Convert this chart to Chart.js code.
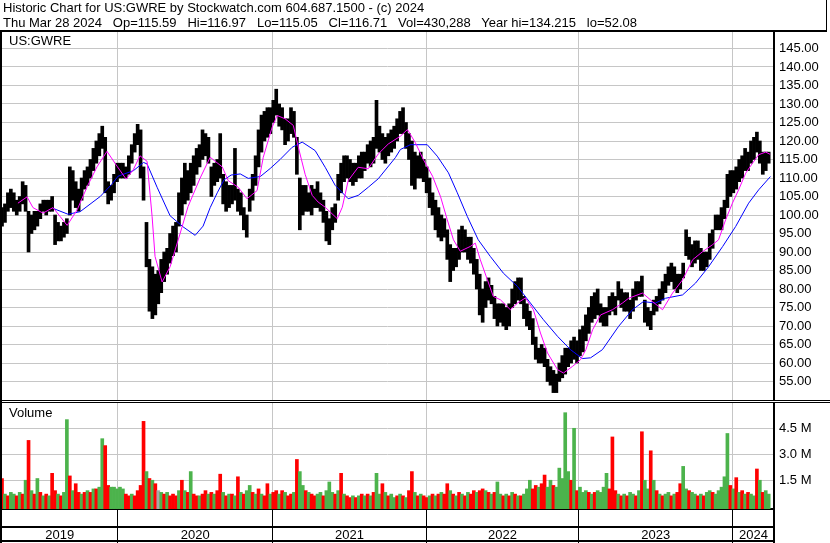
<!DOCTYPE html>
<html lang="en">

<head>
  <meta charset="UTF-8">
  <title>Historic Chart for US:GWRE</title>
  <script src="https://cdn.jsdelivr.net/npm/chart.js"></script>
  <style>
    body {
      margin: 0;
      background: #ffffff;
      font-family: Arial, "Liberation Sans", sans-serif;
      color: #000;
    }

    #page {
      position: relative;
      width: 830px;
      height: 543px;
      overflow: hidden;
      background: #ffffff;
    }

    #hdr {
      position: absolute;
      left: 0;
      top: 0;
      width: 823px;
      height: 30px;
      padding-left: 3px;
      border-right: 1px solid #000;
      border-bottom: 2px solid #000;
      font-size: 13px;
      line-height: 15px;
      white-space: pre;
      z-index: 5;
    }

    .rule {
      position: absolute;
      background: #000;
      z-index: 5;
    }

    .tag {
      position: absolute;
      left: 9px;
      font-size: 13px;
      line-height: 13px;
      z-index: 4;
    }

    canvas {
      position: absolute;
      left: 2px;
    }
  </style>
</head>

<body>
  <div id="page">
    <div id="hdr"></div>
    <canvas id="priceChart" width="828" height="370" style="top:30px"></canvas>
    <canvas id="volChart" width="828" height="140" style="top:403px"></canvas>
    <div class="rule" style="left:0;top:30px;width:2px;height:513px"></div>
    <div class="rule" style="left:0;top:400px;width:830px;height:1px"></div>
    <div class="rule" style="left:0;top:402px;width:830px;height:1px"></div>
    <div class="tag" style="top:34px">US:GWRE</div>
    <div class="tag" style="top:406px">Volume</div>
  </div>

  <script>
    const headerLines = [
      "Historic Chart for US:GWRE by Stockwatch.com 604.687.1500 - (c) 2024",
      "Thu Mar 28 2024   Op=115.59   Hi=116.97   Lo=115.05   Cl=116.71   Vol=430,288   Year hi=134.215   lo=52.08"
    ];

    // x axis is in weeks counted from the first bar (early Apr 2019)
    const weekRange = [0, 261.8];
    const yearStarts = [39.13, 91.87, 143.8, 195.6, 247.85];
    const yearLabels = ["2019", "2020", "2021", "2022", "2023", "2024"];

    // weekly price range
    const priceLow = [
      97, 98, 101, 102, 101, 100, 101, 103, 101, 90,
      95, 96, 97, 99, 101, 100, 101, 101, 92, 93,
      93, 94, 95, 100, 104, 102, 101, 104, 107, 108,
      110, 112, 114, 116, 118, 106, 103, 104, 106, 109,
      110, 110, 110, 111, 114, 117, 119, 110, 104, 86,
      74, 72, 73, 76, 79, 82, 84, 87, 89, 90,
      97, 100, 103, 104, 106, 108, 111, 113, 115, 116,
      114, 105, 108, 109, 110, 103, 101, 102, 103, 104,
      101, 100, 96, 94, 101, 104, 108, 113, 117, 120,
      121, 122, 125, 127, 124, 123, 119, 120, 122, 121,
      111, 96, 100, 101, 101, 100, 102, 102, 101, 98,
      93, 92, 96, 98, 104, 106, 109, 110, 109, 108,
      109, 110, 110, 112, 114, 113, 114, 118, 117, 115,
      114, 116, 117, 118, 120, 122, 122, 118, 115, 108,
      107, 110, 110, 109, 106, 102, 100, 96, 94, 93,
      94, 88, 82, 85, 86, 88, 90, 90, 88, 87,
      84, 80, 73, 71, 75, 77, 76, 72, 70, 71,
      70, 69, 70, 75, 76, 77, 76, 72, 70, 69,
      65, 61, 60, 60, 59, 55, 54, 52, 52, 55,
      56, 57, 59, 60, 61, 60, 62, 63, 66, 68,
      71, 72, 73, 71, 70, 70, 73, 74, 73, 77,
      75, 74, 74, 72, 74, 77, 78, 78, 71, 70,
      69, 73, 74, 76, 77, 79, 81, 82, 80, 79,
      80, 83, 89, 88, 86, 87, 88, 85, 85, 86,
      88, 91, 96, 96, 96, 99, 102, 105, 106, 107,
      109, 110, 112, 112, 114, 115, 117, 114, 111, 112, 114
    ];
    const priceHigh = [
      102, 103, 106, 107, 106, 104, 105, 109, 108, 101,
      100, 101, 101, 103, 104, 104, 104, 105, 100, 98,
      97, 98, 99, 113, 112, 109, 107, 110, 112, 113,
      115, 118, 120, 122, 124, 121, 109, 108, 111, 114,
      114, 114, 113, 116, 119, 122, 124.5, 123, 113, 98,
      88, 86, 84, 85, 88, 90, 91, 95, 97, 98,
      106, 110, 114, 112, 114, 116, 118, 119, 123, 122,
      121, 113, 114, 115, 122, 111, 109, 108, 108, 118,
      107, 106, 102, 100, 107, 111, 116, 123, 127, 128,
      129, 129, 131, 134, 130, 129, 126, 126, 129, 128,
      121, 110, 108, 108, 106, 108, 107, 109, 106, 104,
      101, 99, 102, 103, 111, 114, 116, 116, 115, 114,
      114, 116, 117, 117, 119, 120, 121, 131, 124, 122,
      121, 122, 123, 124, 126, 128, 129, 125, 122, 120,
      117, 116, 117, 115, 113, 110, 106, 104, 102, 100,
      99, 96, 92, 91, 91, 96, 97, 96, 94, 94,
      91, 88, 84, 80, 82, 83, 81, 78, 76, 76,
      76, 75, 76, 80, 82, 83, 83, 78, 76, 74,
      72, 67, 64, 65, 64, 61, 59, 58, 57, 60,
      62, 64, 64, 66, 67, 66, 69, 70, 73, 75,
      78, 79, 80, 76, 75, 75, 78, 79, 78, 82,
      80, 79, 79, 77, 80, 82, 82, 83.5, 77, 75,
      74, 77, 78, 80, 82, 84, 86, 87, 86, 84,
      84, 87, 96, 94, 92, 93, 93, 91, 90, 90,
      95, 96, 100, 100, 102, 104, 111, 112, 112, 113,
      115, 116, 118, 117, 120, 121, 122.4, 120, 117, 117, 117
    ];

    // moving averages as [week, value]
    const maShort = [
      [5.4, 103.2], [8.5, 104.9], [10.5, 102], [13.9, 100.5], [17.3, 102], [19.7, 99.6], [22.1, 97.2],
      [25.5, 101.4], [28.9, 107.7], [32.2, 113], [35.6, 117.2], [39, 113.2], [42.1, 109.7], [44.5, 112.2],
      [46.8, 116], [49.2, 114.5], [50.9, 99.6], [51.9, 88.8], [54.3, 81.9], [57, 86], [60.4, 95],
      [63.1, 102.3], [67.2, 110], [70.6, 115.6], [74.7, 113], [76.7, 109.3], [80.1, 107.5], [83.1, 104.4],
      [86.5, 106.6], [88.6, 115.6], [91.6, 123.7], [93.3, 126.9], [96, 126], [98.8, 124.2], [100.5, 118.3],
      [102.8, 111], [105.2, 105.3], [107.2, 103.5], [109.6, 102.1], [113.7, 99], [115.4, 102.1], [117.4, 109.3],
      [120.8, 112.9], [124.2, 112.5], [127.6, 116.5], [131, 119.2], [135.1, 121.3], [137.5, 123.1],
      [140.2, 119.5], [142.9, 115], [146, 110.5], [148.7, 105], [151, 98.7], [153.1, 93.3], [155.4, 90.2],
      [158.8, 91.5], [160.5, 92.4], [162.2, 87.9], [164.6, 82.5], [166.6, 78], [169, 77.1], [172.4, 74.4],
      [174.8, 76.2], [177.5, 77.6], [180.2, 74.4], [182.6, 68.1], [185, 62.7], [188.4, 58.2], [190.4, 57.3],
      [193.5, 59.1], [196.2, 60.9], [198, 63.6], [200.3, 69], [203, 73], [207, 74.4], [210.4, 76.2],
      [212.5, 77.5], [217.2, 78.9], [220.6, 76.6], [224, 74.4], [227.4, 78.9], [230.8, 82.5], [234.2, 87.9],
      [237.6, 90.1], [241, 92], [243, 93.3], [245.4, 98.7], [247.7, 103.2], [249.8, 106.8], [252.2, 111.3],
      [254.5, 114], [256.6, 116.3], [259, 117], [260.5, 116.4]
    ];
    const maLong = [
      [17.3, 101.8], [22.4, 100.2], [26.5, 100.9], [33.3, 105], [37.1, 108.2], [39.4, 110.5], [44.6, 112],
      [48, 114.2], [49.2, 113.8], [52.6, 107.5], [57, 99.8], [61.4, 96.8], [65.5, 94.5], [68.2, 97],
      [70.6, 102], [73, 106], [75.3, 109.5], [77.7, 110.8], [80.8, 111.1], [83.5, 109.9], [87.6, 110.4],
      [91, 112.6], [94.3, 115], [98.4, 118.3], [101.8, 119.7], [106.2, 117.4], [109.6, 112.9], [113, 108],
      [117.4, 104.4], [120.8, 105.3], [124.2, 107.5], [127.6, 109.8], [133.4, 115.5], [135.1, 117.7],
      [138.5, 119], [144.2, 119], [147.6, 115.9], [151.4, 111.4], [154.4, 106], [157.8, 99.6], [161.5, 93.3],
      [165.6, 88.8], [170, 84.3], [174.8, 80.7], [179.2, 76.2], [183.6, 71.7], [188.4, 67.2], [192.8, 63.6],
      [196.8, 61.2], [199.6, 61.4], [203.6, 63.6], [209.1, 69.9], [213.8, 74.4], [217.5, 76.6], [221.6, 76.2],
      [225, 77.5], [230.8, 78.4], [235.2, 81.6], [239.6, 86], [244.4, 91.5], [248.8, 96.9], [253.2, 103.2],
      [256.6, 106.8], [260.6, 110.4]
    ];

    // weekly volume in millions, and whether the bar is up (g), down (r) or flat (a)
    const volume = [
      1.6, 0.7, 0.6, 0.8, 0.7, 0.6, 0.8, 0.7, 1.5, 3.8,
      0.9, 0.7, 1.6, 0.8, 0.6, 0.7, 0.6, 1.9, 0.9, 0.7,
      0.6, 0.8, 5.0, 1.75, 0.9, 1.3, 0.8, 0.7, 0.8, 0.9,
      0.8, 1.0, 1.0, 1.1, 3.9, 3.5, 1.2, 1.1, 1.1, 1.0,
      1.1, 1.0, 0.7, 0.6, 0.7, 0.6, 0.9, 1.2, 4.9, 2.0,
      1.6, 1.5, 1.3, 0.9, 0.8, 0.7, 0.8, 0.6, 0.7, 0.6,
      0.9, 1.5, 0.9, 0.8, 2.0, 0.7, 0.6, 0.6, 0.7, 0.9,
      0.7, 0.8, 0.7, 0.9, 1.85, 0.8, 0.6, 0.7, 0.7, 0.6,
      1.7, 0.8, 0.7, 0.9, 1.2, 0.8, 0.7, 1.0, 0.7, 0.6,
      1.3, 0.7, 0.8, 0.9, 0.7, 0.9, 0.8, 0.6, 0.7, 0.8,
      2.7, 2.0, 1.2, 0.9, 0.8, 0.7, 0.6, 0.7, 0.8, 0.6,
      0.9, 1.4, 0.8, 0.7, 0.9, 1.9, 0.7, 0.6, 0.5, 0.6,
      0.5, 0.6, 0.7, 0.6, 0.7, 0.6, 0.8, 1.9, 0.7, 1.3,
      0.8, 0.6, 0.7, 0.5, 0.6, 0.7, 0.6, 0.5, 0.9, 2.0,
      0.8, 0.6, 0.7, 0.6, 0.5, 0.6, 0.7, 0.6, 0.7, 0.8,
      0.7, 1.3, 0.9, 0.7, 0.6, 0.8, 0.7, 0.6, 0.8, 0.7,
      0.9, 0.8, 0.9, 1.0, 0.9, 0.8, 0.7, 0.8, 1.4, 0.7,
      0.6, 0.7, 0.6, 0.8, 0.7, 0.6, 0.6, 0.7, 1.0, 1.5,
      1.0, 1.2, 1.1, 1.3, 1.8, 1.1, 1.5, 1.2, 1.1, 2.2,
      1.6, 5.4, 2.0, 1.5, 4.5, 0.9, 1.1, 0.8, 0.9, 0.8,
      0.7, 0.8, 0.9, 0.8, 1.1, 1.9, 1.0, 4.0, 0.9, 0.7,
      0.6, 0.7, 0.6, 0.8, 0.7, 0.6, 0.9, 4.3, 1.5, 1.0,
      3.2, 1.5, 0.9, 0.7, 0.6, 0.7, 0.8, 0.6, 0.7, 0.8,
      1.3, 2.3, 1.0, 0.9, 0.8, 0.7, 0.6, 0.7, 0.6, 0.8,
      0.9, 0.8, 0.7, 0.9, 1.1, 1.7, 4.2, 1.2, 1.0, 1.65,
      0.8, 0.9, 0.7, 0.8, 0.7, 0.6, 2.15, 1.5, 0.8, 0.9, 0.7
    ];
    const volDirection =
      "rgrggrgrgr" + "grgrgrgrrg" + "rggrgrrgrg" + "rgrggrrggg" + "ggrrgrrrrg" +
      "rgragrgrrr" + "grgrgrrgrr" + "grgrrgrgrg" + "rgrggrgrgr" + "rgrrgrgrrg" +
      "rggrgrrggr" + "gggrgrgrrg" + "rgrgrgrggr" + "grggrgrgrr" + "grgrrgrgrg" +
      "rrgrgrgrgr" + "rgrrgrgrgg" + "rgrgrgrggg" + "rrgrrggrgg" + "gggrgrgggr" +
      "grggggrrrg" + "rgrggrgrgg" + "rgrgrggrgr" + "rggrggrgrg" + "grgggggrgr" +
      "grgrggrgrgg";

    const priceRange = [50, 150];
    const priceTicks = [50, 55, 60, 65, 70, 75, 80, 85, 90, 95, 100, 105, 110,
      115, 120, 125, 130, 135, 140, 145, 150];
    const volRange = [-0.16, 5.96];
    const volTicks = [1.5, 3.0, 4.5];

    document.getElementById("hdr").textContent = headerLines.join("\n");

    const FONT = { family: 'Arial, "Liberation Sans", sans-serif', size: 13 };
    const GRID = "#c6c6c6";
    const volColors = { g: "#4cb34c", r: "#ff0000", a: "#a8a8a8" };

    const yearTickHook = scale => {
      scale.ticks = yearStarts.map(v => ({ value: v }));
    };
    // keep the plot flush with the canvas: no room reserved for half labels
    const fixWidth = scale => {
      scale.width = 56;
      scale.paddingTop = 0;
      scale.paddingBottom = 0;
    };

    // Price panel
    new Chart(document.getElementById("priceChart"), {
      type: "bar",
      data: {
        datasets: [
          {
            type: "line",
            data: maShort.map(p => ({ x: p[0], y: p[1] })),
            borderColor: "#ff00ff",
            borderWidth: 1,
            pointRadius: 0,
            order: 1
          },
          {
            type: "line",
            data: maLong.map(p => ({ x: p[0], y: p[1] })),
            borderColor: "#0000ff",
            borderWidth: 1,
            pointRadius: 0,
            order: 1
          },
          {
            data: priceLow.map((lo, i) => ({ x: i, y: [lo, priceHigh[i]] })),
            backgroundColor: "#000000",
            borderWidth: 0,
            barThickness: 3,
            order: 2
          }
        ]
      },
      options: {
        responsive: false,
        animation: false,
        devicePixelRatio: 1,
        layout: { padding: 0, autoPadding: false },
        plugins: { legend: { display: false }, tooltip: { enabled: false } },
        scales: {
          x: {
            type: "linear",
            min: weekRange[0],
            max: weekRange[1],
            offset: false,
            afterBuildTicks: yearTickHook,
            afterFit: s => { s.height = 0; },
            ticks: { display: false },
            grid: { color: GRID, drawTicks: false, offset: false },
            border: { display: false }
          },
          y: {
            position: "right",
            min: priceRange[0],
            max: priceRange[1],
            afterBuildTicks: s => { s.ticks = priceTicks.map(v => ({ value: v })); },
            afterFit: fixWidth,
            ticks: {
              autoSkip: false,
              padding: 5,
              color: "#000",
              font: FONT,
              callback: v => (v <= priceRange[0] || v >= priceRange[1]) ? "" : v.toFixed(2)
            },
            grid: { color: GRID, drawTicks: false },
            border: { display: true, color: "#000", width: 2 }
          }
        }
      }
    });

    // Bottom band with year names, laid out from the volume chart's x scale
    const yearBand = {
      id: "yearBand",
      afterDraw(chart) {
        const { ctx, chartArea } = chart;
        const x = chart.scales.x;
        const h = chart.height;
        ctx.save();
        ctx.fillStyle = "#000";
        ctx.fillRect(0, chartArea.bottom + 17, chartArea.right, 2);
        ctx.fillRect(0, h - 3, chartArea.right, 2);
        ctx.fillRect(chartArea.right - 1, chartArea.bottom, 2, h - chartArea.bottom);
        const edges = [chartArea.left, ...yearStarts.map(w => x.getPixelForValue(w)), chartArea.right];
        ctx.font = '13px Arial, "Liberation Sans", sans-serif';
        ctx.textAlign = "center";
        ctx.textBaseline = "alphabetic";
        yearLabels.forEach((t, i) => ctx.fillText(t, (edges[i] + edges[i + 1]) / 2, h - 4));
        ctx.restore();
      }
    };

    // Volume panel
    new Chart(document.getElementById("volChart"), {
      type: "bar",
      data: {
        datasets: [{
          data: volume.map((v, i) => ({ x: i, y: v })),
          backgroundColor: volume.map((v, i) => volColors[volDirection[i]]),
          borderWidth: 0,
          barThickness: 3,
          base: volRange[0]
        }]
      },
      options: {
        responsive: false,
        animation: false,
        devicePixelRatio: 1,
        layout: { padding: 0, autoPadding: false },
        plugins: { legend: { display: false }, tooltip: { enabled: false } },
        scales: {
          x: {
            type: "linear",
            min: weekRange[0],
            max: weekRange[1],
            offset: false,
            afterBuildTicks: yearTickHook,
            afterFit: s => { s.height = 34; },
            ticks: { display: false },
            grid: { color: GRID, tickColor: "#000", tickLength: 34, offset: false },
            border: { display: true, color: "#000", width: 2 }
          },
          y: {
            position: "right",
            min: volRange[0],
            max: volRange[1],
            afterFit: fixWidth,
            afterBuildTicks: s => { s.ticks = volTicks.map(v => ({ value: v })); },
            ticks: {
              autoSkip: false,
              padding: 5,
              color: "#000",
              font: FONT,
              callback: v => v.toFixed(1) + " M"
            },
            grid: { color: GRID, drawTicks: false },
            border: { display: true, color: "#000", width: 2 }
          }
        }
      },
      plugins: [yearBand]
    });
  </script>
</body>

</html>
